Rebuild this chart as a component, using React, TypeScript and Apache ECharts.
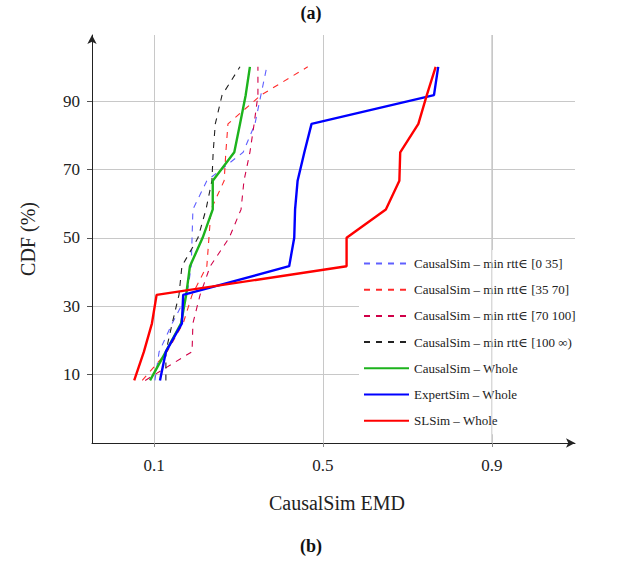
import React, { useEffect, useRef } from "react";
import * as echarts from "echarts";

const cdfLevels = [8.3, 16.7, 25, 33.3, 41.7, 50, 58.3, 66.7, 75, 83.3, 91.7, 100];
const rtt0to35 = [0.102, 0.112, 0.143, 0.178, 0.188, 0.19, 0.192, 0.225, 0.311, 0.339, 0.353, 0.367];
const rtt35to70 = [0.072, 0.131, 0.169, 0.19, 0.225, 0.23, 0.235, 0.266, 0.27, 0.275, 0.353, 0.464];
const rtt70to100 = [0.079, 0.19, 0.192, 0.209, 0.233, 0.278, 0.306, 0.313, 0.327, 0.337, 0.346, 0.346];
const rtt100toInf = [0.128, 0.128, 0.143, 0.159, 0.166, 0.204, 0.223, 0.237, 0.24, 0.245, 0.261, 0.3035];
const causalWhole = [0.0905, 0.128, 0.164, 0.176, 0.185, 0.215, 0.239, 0.239, 0.29, 0.3035, 0.317, 0.327];
const expertWhole = [0.114, 0.128, 0.166, 0.169, 0.42, 0.432, 0.434, 0.44, 0.456, 0.473, 0.763, 0.773];
const slsimWhole = [0.053, 0.076, 0.095, 0.106, 0.556, 0.556, 0.649, 0.681, 0.683, 0.726, 0.746, 0.767];

const seriesNames = [
  "CausalSim – min rtt∈ [0 35]",
  "CausalSim – min rtt∈ [35 70]",
  "CausalSim – min rtt∈ [70 100]",
  "CausalSim – min rtt∈ [100 ∞)",
  "CausalSim – Whole",
  "ExpertSim – Whole",
  "SLSim – Whole",
];
const xTicks = [0.1, 0.5, 0.9];
const yTicks = [10, 30, 50, 70, 90];
const xRange = [-0.047, 1.097];
const yRange = [-10, 109.3];

const FONT = "'Liberation Serif', 'DejaVu Serif', serif";

function pairs(xs: number[]) {
  return xs.map((x, i) => [x, cdfLevels[i]]);
}

export default function App() {
  const ref = useRef<HTMLDivElement>(null);
  useEffect(() => {
    if (!ref.current) return;
    const chart = echarts.init(ref.current, undefined, { renderer: "svg" });
    const dashed = (name: string, xs: number[], color: string) => ({
      name,
      type: "line",
      data: pairs(xs),
      symbol: "none",
      z: 2,
      lineStyle: { color, width: 1.1, type: [6, 6] },
      itemStyle: { color },
    });
    const solid = (name: string, xs: number[], color: string) => ({
      name,
      type: "line",
      data: pairs(xs),
      symbol: "none",
      z: 2,
      lineStyle: { color, width: 2.4, type: "solid" },
      itemStyle: { color },
    });
    chart.setOption({
      animation: false,
      backgroundColor: "#ffffff",
      grid: { left: 92, top: 35, width: 483, height: 408 },
      xAxis: {
        type: "value",
        min: xRange[0],
        max: xRange[1],
        axisLine: {
          show: true,
          onZero: false,
          symbol: ["none", "arrow"],
          symbolSize: [7, 9],
          lineStyle: { color: "#222", width: 1 },
        },
        axisTick: { show: true, customValues: xTicks, length: 4, lineStyle: { color: "#888" } },
        axisLabel: {
          customValues: xTicks,
          formatter: (v: number) => v.toFixed(1),
          fontFamily: FONT,
          fontSize: 17,
          color: "#222",
          margin: 14,
        },
        splitLine: { show: true, lineStyle: { color: "#c8c8c8", width: 1 } },
      },
      yAxis: {
        type: "value",
        min: yRange[0],
        max: yRange[1],
        axisLine: {
          show: true,
          onZero: false,
          symbol: ["none", "arrow"],
          symbolSize: [7, 9],
          lineStyle: { color: "#222", width: 1 },
        },
        axisTick: { show: true, customValues: yTicks, length: 5, lineStyle: { color: "#555" } },
        axisLabel: {
          customValues: yTicks,
          fontFamily: FONT,
          fontSize: 17,
          color: "#222",
          margin: 12,
        },
        splitLine: { show: true, lineStyle: { color: "#c8c8c8", width: 1 } },
      },
      legend: {
        data: seriesNames,
        orient: "vertical",
        left: 359,
        top: 250,
        z: 3,
        itemWidth: 45,
        itemHeight: 14,
        itemGap: 11.2,
        padding: [6, 14, 6, 4],
        backgroundColor: "#ffffff",
        itemStyle: { opacity: 0 },
        textStyle: { fontFamily: FONT, fontSize: 13, color: "#222", lineHeight: 15 },
      },
      graphic: [
        { type: "text", left: "center", top: 4, style: { text: "(a)", font: `bold 18px ${FONT}`, fill: "#111" } },
        { type: "text", left: "center", top: 537, style: { text: "(b)", font: `bold 18px ${FONT}`, fill: "#111" } },
        {
          type: "text",
          x: 337,
          y: 503,
          style: { text: "CausalSim EMD", font: `20px ${FONT}`, fill: "#222", align: "center", verticalAlign: "middle" },
        },
        {
          type: "text",
          x: 28,
          y: 239,
          rotation: Math.PI / 2,
          style: { text: "CDF (%)", font: `20px ${FONT}`, fill: "#222", align: "center", verticalAlign: "middle" },
        },
      ],
      series: [
        dashed(seriesNames[0], rtt0to35, "#6060ff"),
        dashed(seriesNames[1], rtt35to70, "#ff2a2a"),
        dashed(seriesNames[2], rtt70to100, "#d00048"),
        dashed(seriesNames[3], rtt100toInf, "#222222"),
        solid(seriesNames[4], causalWhole, "#1db31d"),
        solid(seriesNames[5], expertWhole, "#0000ff"),
        solid(seriesNames[6], slsimWhole, "#ff0000"),
        {
          name: "grid09",
          type: "line",
          z: 5,
          symbol: "none",
          silent: true,
          data: [
            [xTicks[2], yRange[0]],
            [xTicks[2], yRange[1]],
          ],
          lineStyle: { color: "#c8c8c8", width: 1 },
        },
      ],
    });
    return () => chart.dispose();
  }, []);
  return (
    <div
      ref={ref}
      style={{ position: "fixed", left: 0, top: 0, width: 622, height: 562, background: "#fff" }}
    />
  );
}
